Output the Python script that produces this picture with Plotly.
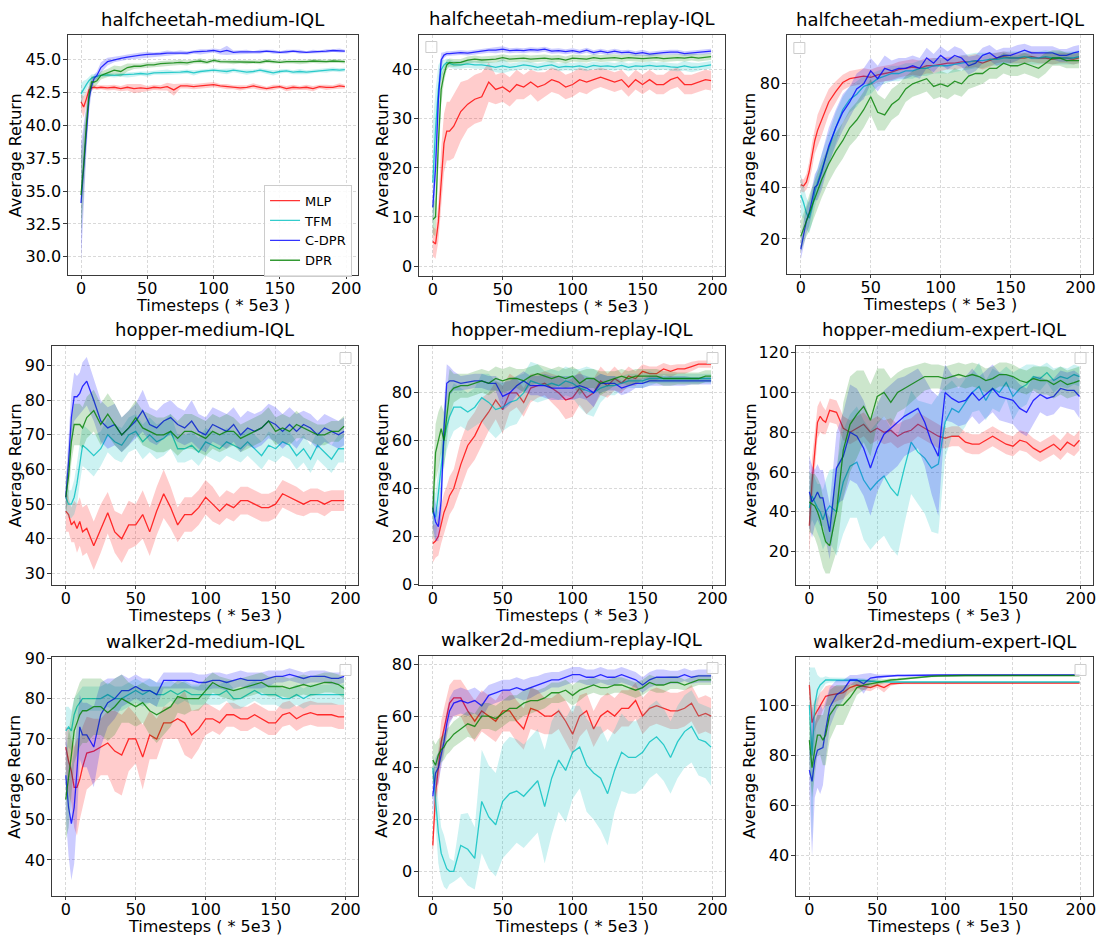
import plotly.graph_objects as go

W, H = 1104, 950

X = [0, 2, 4, 6, 8, 10, 12, 15,
     20, 25, 30, 35, 40, 45, 50, 55, 60, 65,
     70, 75, 80, 85, 90, 95, 100, 105, 110, 115,
     120, 125, 130, 135, 140, 145, 150, 155, 160, 165,
     170, 175, 180, 185, 190, 195, 199]

SERIES = ["MLP", "TFM", "C-DPR", "DPR"]
LINE_COLORS = ["rgba(255,0,0,0.8)", "rgba(0,191,191,0.8)", "rgba(0,0,255,0.8)", "rgba(0,128,0,0.8)"]
FILL_COLORS = ["rgba(255,0,0,0.2)", "rgba(0,191,191,0.2)", "rgba(0,0,255,0.2)", "rgba(0,128,0,0.2)"]

TITLES = ["halfcheetah-medium-IQL", "halfcheetah-medium-replay-IQL", "halfcheetah-medium-expert-IQL",
          "hopper-medium-IQL", "hopper-medium-replay-IQL", "hopper-medium-expert-IQL",
          "walker2d-medium-IQL", "walker2d-medium-replay-IQL", "walker2d-medium-expert-IQL"]
XTICKS = [0, 50, 100, 150, 200]
YTICKS = [[30.0, 32.5, 35.0, 37.5, 40.0, 42.5, 45.0],
          [0, 10, 20, 30, 40],
          [20, 40, 60, 80],
          [30, 40, 50, 60, 70, 80, 90],
          [0, 20, 40, 60, 80],
          [20, 40, 60, 80, 100, 120],
          [40, 50, 60, 70, 80, 90],
          [0, 20, 40, 60, 80],
          [40, 60, 80, 100]]
XLABEL = "Timesteps ( * 5e3 )"
YLABEL = "Average Return"

# ---------------- halfcheetah-medium ----------------
hcm_mlp = [41.8, 41.4, 42.0, 42.7, 42.85, 42.9, 42.85, 42.9,
           42.85, 42.9, 42.8, 42.9, 42.8, 42.85, 42.8, 42.9, 42.85, 42.95,
           42.7, 43.0, 43.0, 42.95, 43.0, 43.05, 43.1, 43.0, 42.95, 42.9,
           42.85, 42.9, 43.0, 42.9, 42.8, 42.9, 42.95, 42.8, 42.9, 42.85,
           42.9, 42.8, 42.95, 42.9, 42.9, 43.0, 42.95]
hcm_mlp_sd = [0.6, 0.8, 0.6, 0.3, 0.2, 0.15, 0.15, 0.15,
              0.2, 0.2, 0.2, 0.25, 0.35, 0.3, 0.2, 0.2, 0.2, 0.3,
              0.45, 0.2, 0.2, 0.2, 0.2, 0.2, 0.2, 0.15, 0.2, 0.15,
              0.2, 0.15, 0.2, 0.2, 0.15, 0.2, 0.15, 0.2, 0.2, 0.15,
              0.2, 0.2, 0.15, 0.2, 0.15, 0.2, 0.15]
hcm_tfm = [42.4, 42.8, 43.1, 43.4, 43.6, 43.7, 43.75, 43.8,
           43.85, 43.8, 43.85, 43.85, 43.9, 43.95, 43.9, 44.0, 44.0, 44.05,
           44.0, 44.05, 44.1, 44.0, 44.1, 44.15, 44.2, 44.15, 44.1, 44.2,
           44.1, 44.05, 44.1, 44.2, 44.1, 44.0, 44.1, 44.15, 44.05, 44.1,
           44.05, 44.1, 44.2, 44.2, 44.25, 44.2, 44.25]
hcm_tfm_sd = [0.8, 0.6, 0.4, 0.3, 0.3, 0.2, 0.2, 0.15,
              0.15, 0.15, 0.15, 0.2, 0.2, 0.15, 0.2, 0.15, 0.15, 0.2,
              0.15, 0.15, 0.15, 0.2, 0.15, 0.15, 0.15, 0.15, 0.2, 0.15,
              0.15, 0.2, 0.15, 0.15, 0.15, 0.2, 0.15, 0.15, 0.15, 0.2,
              0.15, 0.15, 0.15, 0.2, 0.15, 0.15, 0.15]
hcm_cdpr = [34.1, 37.0, 39.8, 42.0, 43.0, 43.6, 43.8, 44.4,
            44.85, 45.0, 45.1, 45.2, 45.3, 45.35, 45.4, 45.4, 45.45, 45.5,
            45.5, 45.55, 45.5, 45.6, 45.6, 45.65, 45.7, 45.6, 45.7, 45.55,
            45.6, 45.6, 45.55, 45.6, 45.65, 45.6, 45.55, 45.6, 45.65, 45.6,
            45.55, 45.6, 45.6, 45.65, 45.7, 45.7, 45.65]
hcm_cdpr_sd = [4.5, 3.0, 2.0, 1.0, 0.5, 0.3, 0.3, 0.4,
               0.3, 0.2, 0.2, 0.2, 0.2, 0.2, 0.2, 0.15, 0.15, 0.2,
               0.15, 0.15, 0.15, 0.15, 0.2, 0.15, 0.15, 0.2, 0.35, 0.15,
               0.15, 0.15, 0.1, 0.15, 0.1, 0.15, 0.1, 0.15, 0.1, 0.15,
               0.1, 0.15, 0.1, 0.15, 0.1, 0.15, 0.1]
hcm_dpr = [34.7, 37.0, 40.0, 42.3, 43.3, 43.3, 43.4, 43.8,
           44.0, 44.2, 44.1, 44.4, 44.5, 44.5, 44.6, 44.6, 44.7, 44.7,
           44.75, 44.8, 44.75, 44.85, 44.9, 44.8, 44.95, 44.85, 44.85, 44.8,
           44.85, 44.8, 44.85, 44.8, 44.9, 44.85, 44.8, 44.85, 44.85, 44.8,
           44.85, 44.9, 44.85, 44.85, 44.9, 44.9, 44.85]
hcm_dpr_sd = [3.0, 2.5, 1.5, 0.8, 0.5, 0.4, 0.3, 0.3,
              0.3, 0.35, 0.4, 0.3, 0.2, 0.2, 0.2, 0.2, 0.2, 0.2,
              0.2, 0.2, 0.2, 0.15, 0.2, 0.15, 0.15, 0.15, 0.15, 0.15,
              0.15, 0.15, 0.15, 0.15, 0.15, 0.15, 0.15, 0.15, 0.15, 0.15,
              0.15, 0.15, 0.15, 0.15, 0.15, 0.15, 0.15]

# ---------------- halfcheetah-medium-replay ----------------
hcmr_mlp = [5.0, 4.5, 9.0, 18.0, 25.0, 27.5, 27.5, 28.5,
            31.5, 33.0, 34.0, 34.5, 37.5, 36.0, 36.5, 35.5, 37.0, 36.5,
            37.5, 36.5, 37.0, 38.0, 37.5, 36.5, 37.0, 38.0, 37.5, 38.0,
            38.5, 38.0, 37.5, 38.0, 36.5, 38.0, 37.0, 38.0, 37.0, 37.0,
            38.0, 38.5, 37.0, 37.0, 37.5, 38.0, 37.8]
hcmr_mlp_sd = [3.0, 3.0, 4.0, 6.0, 6.0, 6.0, 6.0, 6.5,
               6.0, 5.0, 5.0, 5.0, 4.0, 3.0, 3.0, 3.0, 3.0, 2.5,
               2.5, 3.0, 2.5, 2.5, 2.5, 2.5, 2.5, 2.5, 2.5, 2.0,
               2.0, 2.0, 2.0, 2.0, 2.0, 2.0, 2.0, 2.0, 2.0, 2.0,
               2.0, 2.0, 2.0, 2.0, 2.0, 2.0, 2.0]
hcmr_tfm = [17.0, 28.0, 36.0, 40.0, 41.0, 41.5, 41.3, 41.0,
            41.0, 41.2, 41.0, 41.0, 40.8, 40.5, 40.8, 40.5, 40.7, 41.0,
            40.8, 40.5, 40.8, 41.0, 40.5, 40.7, 40.6, 40.8, 40.5, 40.9,
            40.7, 40.8, 40.6, 40.9, 40.5, 40.8, 40.7, 40.9, 40.7, 40.8,
            40.6, 40.5, 40.8, 40.5, 40.6, 40.9, 41.0]
hcmr_tfm_sd = [12.0, 8.0, 5.0, 2.0, 1.0, 0.8, 0.8, 0.8,
               0.8, 0.8, 0.8, 0.8, 0.8, 1.0, 1.5, 0.8, 0.8, 0.8,
               0.8, 0.8, 0.8, 0.8, 0.8, 0.8, 0.8, 0.8, 0.8, 0.8,
               0.8, 0.8, 0.8, 0.8, 0.8, 0.8, 0.8, 0.8, 0.8, 0.8,
               0.8, 0.8, 1.0, 1.0, 0.8, 0.8, 0.8]
hcmr_cdpr = [12.0, 20.0, 34.0, 42.0, 43.0, 43.3, 43.3, 43.4,
             43.5, 43.4, 43.6, 43.8, 44.0, 44.0, 44.2, 43.9, 44.0, 43.9,
             44.1, 44.0, 44.2, 43.8, 43.9, 43.7, 43.9, 43.6, 44.0, 43.5,
             43.8, 43.5, 43.8, 43.5, 43.6, 43.3, 43.5, 43.2, 43.4, 43.5,
             43.6, 43.6, 43.3, 43.4, 43.5, 43.7, 43.8]
hcmr_cdpr_sd = [3.0, 4.0, 4.0, 1.5, 0.6, 0.5, 0.5, 0.5,
                0.5, 0.5, 0.5, 0.5, 0.5, 0.6, 0.6, 0.5, 0.5, 0.5,
                0.5, 0.5, 0.5, 0.5, 0.5, 0.5, 0.5, 0.5, 0.5, 0.5,
                0.5, 0.5, 0.5, 0.5, 0.5, 0.5, 0.6, 0.5, 0.5, 0.5,
                0.5, 0.5, 0.5, 0.5, 0.5, 0.5, 0.5]
hcmr_dpr = [9.5, 10.0, 25.0, 36.0, 39.0, 41.0, 41.5, 41.4,
            41.5, 42.0, 42.2, 42.0, 42.1, 42.2, 42.5, 42.2, 42.3, 42.4,
            42.2, 42.3, 42.4, 42.2, 42.3, 42.0, 42.4, 42.3, 42.2, 42.5,
            42.3, 42.4, 42.5, 42.3, 42.5, 42.4, 42.3, 42.4, 42.5, 42.3,
            42.4, 42.5, 42.4, 42.6, 42.4, 42.5, 42.7]
hcmr_dpr_sd = [3.0, 4.0, 5.0, 3.0, 1.5, 1.0, 0.8, 0.8,
               0.7, 0.7, 0.7, 0.7, 0.7, 0.7, 0.7, 0.7, 0.7, 0.7,
               0.7, 0.7, 0.7, 0.7, 0.7, 0.7, 0.7, 0.7, 0.7, 0.7,
               0.7, 0.7, 0.7, 0.7, 0.7, 0.7, 0.7, 0.7, 0.7, 0.7,
               0.7, 0.7, 0.7, 0.7, 0.7, 0.7, 0.7]

# ---------------- halfcheetah-medium-expert ----------------
hcme_mlp = [41.0, 40.5, 42.0, 46.0, 52.0, 58.0, 62.0, 66.0,
            73.0, 77.0, 80.5, 82.0, 82.5, 83.0, 82.5, 83.5, 84.0, 84.5,
            85.5, 86.0, 86.5, 86.0, 87.0, 87.0, 87.5, 88.0, 88.0, 88.5,
            88.5, 89.0, 88.0, 89.0, 90.0, 90.5, 90.0, 90.0, 90.0, 90.5,
            90.0, 90.0, 89.5, 90.0, 90.0, 89.5, 90.0]
hcme_mlp_sd = [2.5, 2.5, 3.0, 4.0, 5.0, 5.0, 6.0, 6.0,
               5.0, 4.0, 3.0, 3.0, 3.0, 3.0, 3.0, 3.0, 3.0, 3.0,
               3.0, 3.0, 3.0, 3.0, 3.0, 3.0, 2.5, 2.5, 2.5, 2.5,
               2.5, 2.5, 2.5, 2.5, 2.0, 2.0, 2.0, 2.0, 2.0, 2.0,
               2.0, 2.0, 2.0, 2.0, 2.0, 2.0, 2.0]
hcme_tfm = [37.0, 34.0, 30.0, 28.0, 32.0, 38.0, 42.0, 47.0,
            55.0, 63.0, 70.0, 74.0, 76.0, 79.0, 80.0, 82.0, 83.0, 84.0,
            84.0, 85.0, 85.0, 86.0, 86.0, 87.0, 87.0, 87.0, 87.5, 88.0,
            88.5, 89.0, 89.0, 89.5, 89.5, 90.0, 90.0, 90.0, 90.5, 90.0,
            90.0, 90.5, 90.0, 90.0, 90.0, 90.0, 90.5]
hcme_tfm_sd = [8.0, 6.0, 6.0, 6.0, 6.0, 6.0, 6.0, 6.0,
               6.0, 6.0, 5.0, 5.0, 5.0, 4.0, 4.0, 3.0, 3.0, 3.0,
               3.0, 3.0, 3.0, 3.0, 3.0, 3.0, 3.0, 3.0, 3.0, 3.0,
               3.0, 3.0, 3.0, 2.5, 2.5, 2.5, 2.5, 2.5, 2.5, 2.5,
               2.5, 2.5, 2.5, 2.5, 2.5, 2.5, 2.5]
hcme_cdpr = [16.0, 22.0, 27.0, 30.0, 35.0, 40.0, 41.0, 46.0,
             56.0, 63.0, 69.0, 73.0, 78.0, 80.0, 85.0, 82.0, 86.0, 85.0,
             86.0, 86.0, 87.0, 86.0, 90.0, 88.0, 91.0, 89.0, 91.0, 90.0,
             87.0, 88.0, 91.0, 92.0, 90.0, 91.0, 91.0, 92.0, 93.0, 92.0,
             92.0, 92.0, 92.0, 91.0, 91.0, 92.0, 92.5]
hcme_cdpr_sd = [4.0, 5.0, 5.0, 5.0, 5.0, 5.0, 6.0, 7.0,
                7.0, 7.0, 7.0, 6.0, 6.0, 6.0, 5.0, 5.0, 5.0, 4.0,
                4.0, 4.0, 4.0, 4.0, 4.0, 3.5, 3.5, 3.5, 3.5, 3.5,
                3.5, 3.0, 3.0, 3.0, 3.0, 3.0, 3.0, 3.0, 2.5, 2.5,
                2.5, 2.5, 2.5, 2.5, 2.5, 2.5, 2.5]
hcme_dpr = [21.0, 24.0, 27.0, 30.0, 33.0, 36.0, 39.0, 43.0,
            49.0, 54.0, 58.0, 63.0, 66.0, 70.0, 75.0, 69.0, 68.0, 72.0,
            74.0, 78.0, 80.0, 81.0, 82.0, 79.0, 80.0, 79.0, 81.0, 80.0,
            83.0, 84.0, 84.0, 86.0, 86.0, 88.0, 87.0, 87.0, 88.0, 87.0,
            86.0, 88.0, 90.0, 90.0, 89.0, 89.0, 89.0]
hcme_dpr_sd = [6.0, 6.0, 6.0, 7.0, 7.0, 7.0, 7.0, 7.0,
               7.0, 7.0, 7.0, 7.0, 7.0, 7.0, 7.0, 7.0, 6.0, 6.0,
               6.0, 5.0, 5.0, 5.0, 5.0, 5.0, 5.0, 5.0, 5.0, 5.0,
               5.0, 5.0, 4.0, 4.0, 4.0, 4.0, 4.0, 4.0, 4.0, 4.0,
               4.0, 4.0, 3.0, 3.0, 3.0, 3.0, 3.0]

# ---------------- hopper-medium ----------------
hpm_mlp = [48.0, 47.0, 44.0, 45.0, 43.0, 45.0, 42.0, 43.0,
           38.0, 43.0, 47.5, 42.0, 40.0, 44.0, 44.0, 47.0, 42.0, 48.0,
           53.0, 49.0, 44.0, 47.0, 47.0, 49.0, 52.0, 50.0, 48.0, 50.0,
           49.0, 51.0, 51.0, 50.0, 49.0, 49.0, 50.0, 53.0, 52.0, 51.0,
           50.0, 51.0, 51.0, 50.0, 51.0, 51.0, 51.0]
hpm_mlp_sd = [6.0, 5.0, 5.0, 6.0, 7.0, 7.0, 7.0, 7.0,
              7.0, 7.0, 6.0, 6.0, 7.0, 7.0, 6.0, 7.0, 7.0, 7.0,
              7.0, 6.0, 5.0, 5.0, 5.0, 5.0, 5.0, 5.0, 4.0, 4.0,
              4.0, 4.0, 4.0, 4.0, 4.0, 4.0, 4.0, 4.0, 4.0, 4.0,
              3.5, 3.5, 3.5, 3.5, 3.0, 3.0, 3.0]
hpm_tfm = [52.0, 50.0, 50.0, 52.0, 56.0, 62.0, 67.0, 66.0,
           64.0, 66.0, 70.0, 68.0, 67.0, 70.0, 71.0, 68.0, 70.0, 68.0,
           69.0, 71.0, 66.0, 66.0, 67.0, 65.0, 68.0, 67.0, 66.0, 68.0,
           67.0, 66.0, 68.0, 66.0, 64.0, 67.0, 66.0, 68.0, 67.0, 64.0,
           66.0, 63.0, 67.0, 65.0, 63.0, 66.0, 66.0]
hpm_tfm_sd = [4.0, 4.0, 4.0, 5.0, 6.0, 6.0, 6.0, 6.0,
              6.0, 5.0, 5.0, 5.0, 5.0, 5.0, 5.0, 5.0, 5.0, 5.0,
              5.0, 5.0, 4.0, 4.0, 4.0, 4.0, 4.0, 4.0, 4.0, 4.0,
              4.0, 4.0, 4.0, 4.0, 4.0, 4.0, 4.0, 4.0, 4.0, 4.0,
              4.0, 4.0, 4.0, 4.0, 4.0, 4.0, 4.0]
hpm_cdpr = [52.0, 62.0, 75.0, 81.0, 81.0, 82.0, 84.0, 85.5,
            80.0, 74.0, 72.0, 73.0, 70.0, 72.0, 74.0, 77.0, 73.0, 72.0,
            74.0, 75.0, 73.0, 72.0, 74.0, 71.0, 70.0, 73.0, 72.0, 71.0,
            73.0, 70.0, 72.0, 71.0, 72.0, 74.0, 73.0, 71.0, 73.0, 71.0,
            73.0, 72.0, 70.0, 72.0, 71.0, 70.0, 71.0]
hpm_cdpr_sd = [5.0, 6.0, 7.0, 7.0, 6.0, 6.0, 7.0, 7.0,
               6.0, 6.0, 6.0, 6.0, 5.0, 5.0, 5.0, 6.0, 5.0, 5.0,
               5.0, 5.0, 5.0, 5.0, 6.0, 5.0, 5.0, 5.0, 5.0, 5.0,
               5.0, 5.0, 5.0, 5.0, 5.0, 5.0, 5.0, 5.0, 5.0, 5.0,
               4.0, 4.0, 4.0, 4.0, 4.0, 4.0, 4.0]
hpm_dpr = [52.0, 58.0, 68.0, 73.0, 73.0, 73.0, 72.0, 75.0,
           77.0, 73.0, 76.0, 73.0, 70.0, 72.0, 75.0, 72.0, 71.0, 70.0,
           70.0, 71.0, 69.0, 71.0, 71.0, 70.0, 69.0, 71.0, 70.0, 71.0,
           71.0, 69.0, 70.0, 71.0, 72.0, 74.0, 71.0, 72.0, 71.0, 73.0,
           72.0, 71.0, 70.0, 70.0, 71.0, 71.0, 72.5]
hpm_dpr_sd = [5.0, 6.0, 6.0, 6.0, 6.0, 6.0, 6.0, 6.0,
              6.0, 6.0, 6.0, 6.0, 5.0, 5.0, 5.0, 5.0, 5.0, 5.0,
              5.0, 5.0, 5.0, 5.0, 5.0, 5.0, 5.0, 5.0, 5.0, 5.0,
              4.0, 4.0, 4.0, 4.0, 4.0, 4.0, 4.0, 4.0, 4.0, 4.0,
              3.0, 3.0, 3.0, 3.0, 3.0, 3.0, 3.0]

# ---------------- hopper-medium-replay ----------------
hpmr_mlp = [17.0, 18.0, 20.0, 25.0, 30.0, 33.0, 37.0, 40.0,
            50.0, 58.0, 62.0, 68.0, 72.0, 77.0, 73.0, 80.0, 80.0, 76.0,
            82.0, 83.0, 84.0, 82.0, 80.0, 77.0, 78.0, 82.0, 78.0, 80.0,
            85.0, 83.0, 86.0, 84.0, 87.0, 86.0, 89.0, 88.0, 88.0, 90.0,
            89.0, 90.0, 90.0, 91.0, 92.0, 92.0, 92.0]
hpmr_mlp_sd = [8.0, 7.0, 8.0, 8.0, 8.0, 8.0, 8.0, 8.0,
               10.0, 10.0, 10.0, 10.0, 8.0, 8.0, 10.0, 8.0, 6.0, 6.0,
               6.0, 5.0, 5.0, 6.0, 7.0, 8.0, 8.0, 7.0, 7.0, 6.0,
               6.0, 5.0, 5.0, 4.0, 4.0, 3.0, 3.0, 3.0, 3.0, 2.5,
               2.5, 2.0, 2.0, 2.0, 1.5, 1.5, 1.5]
hpmr_tfm = [30.0, 28.0, 38.0, 50.0, 60.0, 66.0, 70.0, 74.0,
            74.0, 72.0, 74.0, 78.0, 76.0, 73.0, 74.0, 76.0, 77.0, 80.0,
            85.0, 84.0, 83.0, 84.0, 83.0, 85.0, 84.0, 82.0, 81.0, 80.0,
            82.0, 83.0, 83.0, 84.0, 85.0, 85.0, 85.0, 86.0, 86.0, 86.0,
            86.0, 86.0, 86.0, 86.0, 86.0, 86.0, 86.0]
hpmr_tfm_sd = [10.0, 10.0, 10.0, 10.0, 10.0, 10.0, 10.0, 10.0,
               8.0, 8.0, 8.0, 10.0, 12.0, 12.0, 10.0, 10.0, 10.0, 8.0,
               8.0, 8.0, 6.0, 6.0, 6.0, 6.0, 6.0, 8.0, 10.0, 10.0,
               6.0, 4.0, 4.0, 3.0, 3.0, 3.0, 3.0, 3.0, 2.0, 2.0,
               2.0, 2.0, 2.0, 2.0, 2.0, 2.0, 2.0]
hpmr_cdpr = [32.0, 26.0, 24.0, 35.0, 65.0, 84.0, 85.0, 85.0,
             84.0, 84.5, 85.0, 85.0, 84.0, 84.0, 78.5, 80.0, 83.0, 85.0,
             83.0, 83.0, 83.0, 82.0, 82.0, 82.0, 82.0, 83.0, 82.0, 80.0,
             84.0, 84.0, 84.0, 82.0, 83.0, 84.0, 84.0, 85.0, 85.0, 85.0,
             85.0, 85.0, 85.0, 85.0, 85.0, 85.0, 85.0]
hpmr_cdpr_sd = [8.0, 8.0, 6.0, 8.0, 10.0, 8.0, 6.0, 4.0,
                3.0, 3.0, 3.0, 3.0, 3.0, 3.0, 6.0, 5.0, 4.0, 4.0,
                4.0, 4.0, 5.0, 5.0, 5.0, 5.0, 5.0, 5.0, 5.0, 6.0,
                4.0, 3.0, 3.0, 3.0, 3.0, 2.0, 2.0, 2.0, 2.0, 2.0,
                2.0, 2.0, 2.0, 1.5, 1.5, 1.5, 1.5]
hpmr_dpr = [30.0, 55.0, 60.0, 65.0, 60.0, 70.0, 80.0, 82.0,
            83.0, 83.0, 84.0, 85.0, 84.0, 86.0, 85.0, 86.0, 86.0, 85.0,
            87.0, 88.0, 87.0, 86.0, 87.0, 86.0, 87.0, 84.0, 86.0, 86.0,
            84.0, 85.0, 86.0, 87.0, 86.0, 87.0, 87.0, 87.0, 87.0, 86.0,
            86.0, 86.0, 86.0, 86.0, 86.0, 87.0, 87.0]
hpmr_dpr_sd = [12.0, 12.0, 12.0, 10.0, 12.0, 12.0, 10.0, 6.0,
               5.0, 5.0, 5.0, 5.0, 5.0, 5.0, 5.0, 5.0, 4.0, 5.0,
               4.0, 4.0, 4.0, 4.0, 4.0, 4.0, 4.0, 5.0, 4.0, 4.0,
               5.0, 4.0, 3.0, 3.0, 3.0, 3.0, 3.0, 3.0, 3.0, 3.0,
               3.0, 2.5, 2.5, 2.5, 2.5, 2.5, 2.5]

# ---------------- hopper-medium-expert ----------------
hpme_mlp = [33.0, 55.0, 70.0, 85.0, 88.0, 86.0, 85.0, 91.0,
            90.0, 82.0, 80.0, 82.0, 84.0, 80.0, 82.0, 80.0, 81.0, 78.0,
            80.0, 81.0, 84.0, 82.0, 80.0, 78.0, 77.0, 78.0, 78.0, 75.0,
            74.0, 74.0, 76.0, 78.0, 76.0, 74.0, 73.0, 76.0, 75.0, 72.0,
            70.0, 72.0, 74.0, 71.0, 75.0, 73.0, 76.0]
hpme_mlp_sd = [15.0, 12.0, 10.0, 8.0, 8.0, 7.0, 6.0, 6.0,
               6.0, 6.0, 6.0, 6.0, 6.0, 6.0, 6.0, 6.0, 6.0, 6.0,
               6.0, 6.0, 6.0, 6.0, 6.0, 6.0, 5.0, 5.0, 5.0, 5.0,
               5.0, 5.0, 5.0, 5.0, 5.0, 5.0, 5.0, 5.0, 5.0, 5.0,
               5.0, 5.0, 5.0, 5.0, 5.0, 5.0, 5.0]
hpme_tfm = [42.0, 48.0, 45.0, 42.0, 40.0, 36.0, 40.0, 43.0,
            40.0, 55.0, 63.0, 65.0, 56.0, 51.0, 55.0, 58.0, 52.0, 48.0,
            62.0, 75.0, 70.0, 67.0, 62.0, 64.0, 85.0, 92.0, 90.0, 95.0,
            100.0, 103.0, 96.0, 102.0, 100.0, 105.0, 98.0, 102.0, 104.0, 108.0,
            107.0, 110.0, 106.0, 108.0, 107.0, 109.0, 108.0]
hpme_tfm_sd = [10.0, 12.0, 12.0, 12.0, 14.0, 15.0, 16.0, 18.0,
               22.0, 26.0, 26.0, 28.0, 30.0, 30.0, 30.0, 30.0, 30.0, 30.0,
               28.0, 26.0, 26.0, 28.0, 32.0, 35.0, 18.0, 14.0, 12.0, 12.0,
               10.0, 12.0, 10.0, 10.0, 10.0, 8.0, 12.0, 10.0, 10.0, 6.0,
               6.0, 5.0, 6.0, 5.0, 5.0, 5.0, 5.0]
hpme_cdpr = [50.0, 45.0, 47.0, 50.0, 47.0, 47.0, 40.0, 30.0,
             62.0, 68.0, 80.0, 78.0, 72.0, 62.0, 72.0, 79.0, 82.0, 85.0,
             88.0, 90.0, 92.0, 85.0, 75.0, 68.0, 100.0, 97.0, 95.0, 96.0,
             100.0, 96.0, 99.0, 102.0, 98.0, 97.0, 96.0, 92.0, 90.0, 96.0,
             99.0, 97.0, 98.0, 102.0, 101.0, 101.0, 98.0]
hpme_cdpr_sd = [18.0, 18.0, 14.0, 14.0, 14.0, 14.0, 14.0, 14.0,
                18.0, 22.0, 24.0, 24.0, 24.0, 24.0, 22.0, 22.0, 22.0, 22.0,
                20.0, 20.0, 20.0, 22.0, 26.0, 30.0, 14.0, 12.0, 12.0, 12.0,
                12.0, 12.0, 12.0, 12.0, 12.0, 12.0, 12.0, 12.0, 12.0, 12.0,
                9.0, 9.0, 9.0, 9.0, 9.0, 10.0, 11.0]
hpme_dpr = [45.0, 44.0, 43.0, 40.0, 36.0, 30.0, 25.0, 23.0,
            40.0, 71.0, 84.0, 89.0, 93.0, 86.0, 98.0, 100.0, 95.0, 100.0,
            102.0, 104.0, 106.0, 108.0, 108.0, 108.0, 107.0, 108.0, 109.0, 108.0,
            109.0, 108.0, 106.0, 107.0, 109.0, 109.0, 108.0, 106.0, 105.0, 107.0,
            106.0, 106.0, 104.0, 106.0, 104.0, 105.0, 106.0]
hpme_dpr_sd = [15.0, 15.0, 16.0, 17.0, 18.0, 18.0, 16.0, 14.0,
               20.0, 24.0, 24.0, 22.0, 18.0, 18.0, 14.0, 12.0, 12.0, 10.0,
               10.0, 9.0, 8.0, 7.0, 6.0, 6.0, 6.0, 6.0, 6.0, 6.0,
               6.0, 6.0, 6.0, 6.0, 6.0, 6.0, 6.0, 6.0, 6.0, 6.0,
               7.0, 7.0, 7.0, 7.0, 7.0, 7.0, 7.0]

# ---------------- walker2d-medium ----------------
wkm_mlp = [68.0, 64.5, 62.0, 58.0, 58.0, 60.0, 63.0, 66.5,
           67.0, 68.0, 69.0, 67.0, 66.0, 70.0, 70.0, 65.5, 71.0, 70.0,
           74.0, 74.0, 75.0, 74.0, 71.0, 72.5, 75.0, 75.0, 74.0, 76.0,
           76.0, 75.0, 75.0, 76.0, 75.0, 74.0, 74.0, 76.0, 76.5, 75.0,
           76.0, 76.5, 76.0, 76.0, 76.0, 75.5, 75.5]
wkm_mlp_sd = [5.0, 8.0, 8.0, 10.0, 12.0, 10.0, 10.0, 9.0,
              8.0, 7.0, 8.0, 10.0, 10.0, 8.0, 6.0, 8.0, 6.0, 5.0,
              4.0, 4.0, 5.0, 8.0, 6.0, 5.0, 4.0, 3.0, 3.0, 3.0,
              3.0, 3.0, 3.0, 3.0, 3.0, 3.0, 3.0, 3.0, 3.0, 3.0,
              3.0, 3.0, 3.0, 3.0, 3.0, 3.0, 3.0]
wkm_tfm = [72.0, 73.0, 72.0, 76.0, 78.0, 79.0, 80.0, 80.0,
           80.0, 80.0, 81.0, 80.0, 80.0, 81.0, 82.0, 81.0, 82.0, 81.0,
           81.0, 82.0, 81.0, 82.0, 81.0, 81.0, 81.0, 81.0, 81.0, 82.0,
           80.0, 80.0, 81.0, 82.0, 81.0, 81.0, 81.0, 80.0, 80.0, 81.0,
           80.0, 81.0, 81.0, 81.0, 81.0, 81.0, 81.0]
wkm_tfm_sd = [6.0, 5.0, 5.0, 4.0, 3.0, 3.0, 3.0, 3.0,
              3.0, 3.0, 3.0, 3.0, 3.0, 3.0, 3.0, 3.0, 3.0, 3.0,
              3.0, 2.5, 2.5, 2.5, 2.5, 2.5, 2.5, 2.5, 2.5, 2.5,
              2.5, 2.5, 2.5, 2.5, 2.5, 2.5, 2.5, 2.5, 2.5, 2.5,
              2.5, 2.5, 2.5, 2.5, 2.5, 2.5, 2.5]
wkm_cdpr = [61.0, 53.0, 49.0, 53.0, 62.0, 73.0, 71.0, 71.0,
            68.0, 76.0, 79.0, 80.0, 82.0, 82.0, 83.0, 82.0, 82.0, 81.0,
            84.5, 84.5, 84.5, 84.5, 84.5, 84.0, 84.0, 84.5, 84.5, 84.0,
            84.5, 85.0, 84.5, 84.5, 84.5, 85.0, 85.5, 85.5, 86.0, 85.5,
            85.0, 85.5, 85.5, 85.5, 85.0, 85.0, 85.5]
wkm_cdpr_sd = [10.0, 12.0, 14.0, 14.0, 12.0, 8.0, 8.0, 8.0,
               10.0, 8.0, 6.0, 5.0, 4.0, 3.0, 3.0, 3.0, 3.0, 3.0,
               2.0, 2.0, 2.0, 2.0, 2.0, 2.0, 2.0, 2.0, 2.0, 2.0,
               2.0, 2.0, 2.0, 2.0, 2.0, 2.0, 1.5, 1.5, 1.5, 1.5,
               1.5, 1.5, 1.5, 1.5, 1.5, 1.5, 1.5]
wkm_dpr = [55.0, 60.0, 66.0, 72.0, 74.0, 76.0, 77.0, 77.0,
           78.0, 78.0, 76.5, 78.0, 80.0, 79.0, 78.0, 79.0, 77.0, 76.0,
           77.0, 78.0, 80.5, 80.0, 80.0, 80.0, 82.0, 84.0, 83.0, 82.5,
           82.0, 82.5, 83.0, 83.5, 84.0, 83.0, 83.0, 83.0, 82.5, 83.0,
           83.5, 83.0, 83.5, 84.0, 84.0, 83.5, 82.5]
wkm_dpr_sd = [10.0, 12.0, 10.0, 8.0, 8.0, 8.0, 8.0, 8.0,
              7.0, 7.0, 7.0, 7.0, 6.0, 5.0, 5.0, 5.0, 6.0, 7.0,
              6.0, 5.0, 4.0, 4.0, 3.0, 3.0, 3.0, 2.5, 2.5, 2.5,
              2.5, 2.5, 2.5, 2.5, 2.5, 2.5, 2.5, 2.5, 2.5, 2.5,
              2.5, 2.5, 2.5, 2.5, 2.5, 2.5, 2.5]

# ---------------- walker2d-medium-replay ----------------
wkmr_mlp = [10.0, 30.0, 40.0, 50.0, 55.0, 60.0, 65.0, 67.0,
            67.0, 62.0, 58.0, 62.0, 60.0, 58.0, 62.0, 62.0, 58.0, 55.0,
            63.0, 62.0, 60.0, 60.0, 62.0, 58.0, 53.0, 60.0, 62.0, 55.0,
            60.0, 62.0, 60.0, 63.0, 63.0, 66.0, 60.0, 63.0, 64.0, 63.0,
            62.0, 62.0, 63.0, 65.0, 60.0, 61.0, 60.0]
wkmr_mlp_sd = [5.0, 6.0, 7.0, 8.0, 8.0, 8.0, 7.0, 7.0,
               7.0, 8.0, 8.0, 8.0, 8.0, 8.0, 8.0, 8.0, 8.0, 8.0,
               8.0, 8.0, 7.0, 7.0, 7.0, 8.0, 8.0, 8.0, 7.0, 7.0,
               7.0, 7.0, 7.0, 7.0, 7.0, 7.0, 7.0, 7.0, 7.0, 7.0,
               7.0, 7.0, 7.0, 7.0, 7.0, 7.0, 7.0]
wkmr_tfm = [40.0, 28.0, 15.0, 7.0, 4.0, 1.0, 0.0, 0.0,
            10.0, 8.5, 5.0, 27.0, 21.0, 18.0, 27.0, 30.0, 31.0, 29.0,
            32.0, 35.0, 25.0, 36.0, 43.0, 39.0, 46.0, 48.0, 41.0, 38.0,
            36.0, 30.0, 39.0, 46.0, 44.0, 44.0, 46.0, 50.0, 52.0, 49.0,
            44.0, 50.0, 54.0, 56.0, 51.0, 50.0, 48.0]
wkmr_tfm_sd = [5.0, 10.0, 12.0, 10.0, 10.0, 8.0, 5.0, 4.0,
               12.0, 14.0, 12.0, 20.0, 20.0, 20.0, 22.0, 22.0, 20.0, 20.0,
               20.0, 20.0, 22.0, 22.0, 20.0, 20.0, 18.0, 16.0, 18.0, 18.0,
               20.0, 20.0, 16.0, 15.0, 14.0, 14.0, 14.0, 14.0, 14.0, 14.0,
               14.0, 14.0, 14.0, 14.0, 14.0, 14.0, 15.0]
wkmr_cdpr = [29.0, 38.0, 40.0, 45.0, 50.0, 57.0, 62.0, 65.0,
             66.0, 65.0, 66.0, 64.0, 68.0, 69.0, 70.0, 70.0, 71.0, 70.0,
             71.0, 72.0, 73.0, 74.0, 74.0, 75.0, 76.0, 76.0, 75.0, 75.0,
             76.0, 75.0, 75.0, 76.0, 75.0, 74.0, 72.0, 74.0, 75.0, 75.0,
             75.0, 75.0, 76.0, 75.0, 75.5, 75.5, 75.5]
wkmr_cdpr_sd = [8.0, 6.0, 6.0, 5.0, 5.0, 5.0, 5.0, 5.0,
                5.0, 5.0, 5.0, 5.0, 4.0, 4.0, 4.0, 4.0, 4.0, 4.0,
                4.0, 3.5, 3.5, 3.0, 3.0, 3.0, 3.0, 3.0, 3.0, 3.0,
                3.0, 3.0, 3.0, 3.0, 3.0, 3.0, 3.0, 3.0, 3.0, 3.0,
                2.5, 2.5, 2.5, 2.5, 2.5, 2.5, 2.5]
wkmr_dpr = [43.0, 41.0, 45.0, 47.0, 48.0, 50.0, 51.0, 53.0,
            55.0, 57.0, 56.0, 60.0, 60.0, 59.0, 61.0, 63.0, 63.0, 65.0,
            66.0, 66.0, 67.0, 69.0, 69.0, 70.0, 68.0, 70.0, 71.0, 72.0,
            71.0, 71.0, 72.0, 72.0, 71.0, 70.0, 71.0, 73.0, 72.0, 72.0,
            73.0, 73.0, 72.0, 73.0, 74.0, 74.0, 74.0]
wkmr_dpr_sd = [8.0, 8.0, 6.0, 5.0, 5.0, 5.0, 5.0, 5.0,
               5.0, 5.0, 5.0, 5.0, 5.0, 5.0, 5.0, 5.0, 5.0, 5.0,
               5.0, 4.0, 4.0, 4.0, 4.0, 4.0, 4.0, 4.0, 3.0, 3.0,
               3.0, 3.0, 3.0, 3.0, 3.0, 3.0, 3.0, 3.0, 3.0, 3.0,
               2.5, 2.5, 2.0, 2.0, 2.0, 2.0, 2.0]

# ---------------- walker2d-medium-expert ----------------
wkme_mlp = [108.0, 93.0, 96.0, 98.0, 100.0, 102.0, 103.5, 104.0,
            104.5, 105.0, 107.0, 108.0, 107.5, 107.0, 108.0, 107.0, 108.5, 108.8,
            108.8, 108.8, 108.8, 108.6, 108.6, 108.7, 108.8, 108.8, 108.8, 108.8,
            108.8, 108.8, 108.8, 108.8, 108.8, 108.8, 108.8, 108.8, 108.8, 108.8,
            108.8, 108.8, 108.8, 108.8, 108.8, 108.8, 108.8]
wkme_mlp_sd = [3.0, 6.0, 6.0, 5.0, 5.0, 4.0, 4.0, 4.0,
               3.0, 2.5, 2.0, 1.5, 1.5, 1.5, 1.0, 2.0, 0.8, 0.5,
               0.4, 0.4, 0.4, 0.4, 0.4, 0.4, 0.4, 0.4, 0.4, 0.4,
               0.3, 0.3, 0.3, 0.3, 0.3, 0.3, 0.3, 0.3, 0.3, 0.3,
               0.3, 0.3, 0.3, 0.3, 0.3, 0.3, 0.3]
wkme_tfm = [100.0, 80.0, 100.0, 106.0, 108.0, 109.0, 110.0, 110.0,
            110.0, 110.0, 110.0, 110.0, 109.8, 109.5, 109.3, 109.2, 109.2, 109.2,
            109.2, 109.2, 109.2, 109.2, 109.2, 109.2, 109.2, 109.2, 109.2, 109.2,
            109.2, 109.2, 109.2, 109.2, 109.2, 109.2, 109.2, 109.2, 109.2, 109.2,
            109.2, 109.2, 109.2, 109.2, 109.2, 109.2, 109.2]
wkme_tfm_sd = [15.0, 35.0, 15.0, 6.0, 3.0, 2.0, 1.5, 1.0,
               1.0, 0.8, 0.8, 0.8, 0.8, 0.6, 0.5, 0.4, 0.4, 0.3,
               0.3, 0.3, 0.3, 0.3, 0.3, 0.3, 0.3, 0.3, 0.3, 0.3,
               0.3, 0.3, 0.3, 0.3, 0.3, 0.3, 0.3, 0.3, 0.3, 0.3,
               0.3, 0.3, 0.3, 0.3, 0.3, 0.3, 0.3]
wkme_cdpr = [74.0, 69.5, 78.0, 82.0, 82.5, 83.0, 90.0, 99.0,
             104.0, 106.0, 110.0, 110.0, 108.5, 110.8, 111.2, 111.5, 111.7, 111.8,
             111.8, 111.9, 111.9, 111.9, 111.9, 112.0, 112.0, 112.0, 112.0, 112.0,
             112.0, 112.0, 112.0, 112.0, 112.0, 112.0, 112.0, 112.0, 112.0, 112.0,
             112.0, 112.0, 112.0, 112.0, 112.0, 112.0, 112.0]
wkme_cdpr_sd = [8.0, 30.0, 15.0, 15.0, 18.0, 15.0, 12.0, 8.0,
                6.0, 4.0, 2.0, 2.0, 4.0, 2.0, 1.0, 0.6, 0.5, 0.4,
                0.4, 0.3, 0.3, 0.3, 0.3, 0.3, 0.3, 0.3, 0.3, 0.3,
                0.3, 0.3, 0.3, 0.3, 0.3, 0.3, 0.3, 0.3, 0.3, 0.3,
                0.3, 0.3, 0.3, 0.3, 0.3, 0.3, 0.3]
wkme_dpr = [86.0, 75.0, 82.0, 88.0, 88.0, 86.0, 88.0, 96.0,
            100.0, 100.0, 103.0, 107.0, 108.0, 108.5, 109.0, 109.5, 110.0, 110.2,
            110.5, 110.8, 111.0, 111.3, 111.5, 111.6, 111.7, 111.8, 111.8, 111.8,
            111.8, 111.8, 111.8, 111.8, 111.8, 111.8, 111.8, 111.8, 111.8, 111.8,
            111.8, 111.8, 111.8, 111.8, 111.8, 111.8, 111.8]
wkme_dpr_sd = [10.0, 12.0, 10.0, 8.0, 8.0, 10.0, 12.0, 10.0,
               8.0, 8.0, 5.0, 3.0, 2.0, 1.5, 1.0, 0.8, 0.6, 0.5,
               0.5, 0.4, 0.4, 0.4, 0.4, 0.4, 0.4, 0.4, 0.4, 0.4,
               0.3, 0.3, 0.3, 0.3, 0.3, 0.3, 0.3, 0.3, 0.3, 0.3,
               0.3, 0.3, 0.3, 0.3, 0.3, 0.3, 0.3]

PANELS = [
    [(hcm_mlp, hcm_mlp_sd), (hcm_tfm, hcm_tfm_sd), (hcm_cdpr, hcm_cdpr_sd), (hcm_dpr, hcm_dpr_sd)],
    [(hcmr_mlp, hcmr_mlp_sd), (hcmr_tfm, hcmr_tfm_sd), (hcmr_cdpr, hcmr_cdpr_sd), (hcmr_dpr, hcmr_dpr_sd)],
    [(hcme_mlp, hcme_mlp_sd), (hcme_tfm, hcme_tfm_sd), (hcme_cdpr, hcme_cdpr_sd), (hcme_dpr, hcme_dpr_sd)],
    [(hpm_mlp, hpm_mlp_sd), (hpm_tfm, hpm_tfm_sd), (hpm_cdpr, hpm_cdpr_sd), (hpm_dpr, hpm_dpr_sd)],
    [(hpmr_mlp, hpmr_mlp_sd), (hpmr_tfm, hpmr_tfm_sd), (hpmr_cdpr, hpmr_cdpr_sd), (hpmr_dpr, hpmr_dpr_sd)],
    [(hpme_mlp, hpme_mlp_sd), (hpme_tfm, hpme_tfm_sd), (hpme_cdpr, hpme_cdpr_sd), (hpme_dpr, hpme_dpr_sd)],
    [(wkm_mlp, wkm_mlp_sd), (wkm_tfm, wkm_tfm_sd), (wkm_cdpr, wkm_cdpr_sd), (wkm_dpr, wkm_dpr_sd)],
    [(wkmr_mlp, wkmr_mlp_sd), (wkmr_tfm, wkmr_tfm_sd), (wkmr_cdpr, wkmr_cdpr_sd), (wkmr_dpr, wkmr_dpr_sd)],
    [(wkme_mlp, wkme_mlp_sd), (wkme_tfm, wkme_tfm_sd), (wkme_cdpr, wkme_cdpr_sd), (wkme_dpr, wkme_dpr_sd)],
]

# ---------------- layout (pixel boxes of each plot area) ----------------
BOXES = [(68, 359, 27, 271), (420, 727, 26, 272), (789, 1096, 27, 270),
         (52, 359, 343, 587), (420, 727, 343, 587), (798, 1096, 343, 587),
         (52, 359, 661, 904), (420, 727, 659, 904), (798, 1096, 661, 904)]
YRANGES = [(28.63, 46.84), (-2.0, 47.2), (6.5, 98.7),
           (26.7, 95.8), (-0.3, 99.8), (3.3, 123.6),
           (31.1, 90.2), (-9.5, 83.4), (23.8, 119.0)]
XRANGE = (-9.95, 208.95)
YLAB_X = [15, 383, 752]
EMPTY_LEGEND_SIDE = [None, "left", "left", "right", "right", "right", "right", "right", "right"]

FONT = "DejaVu Sans"
AXCOL = "#3a3a3a"

fig = go.Figure()
annotations = []
shapes = []
layout = {}

for i in range(9):
    sfx = "" if i == 0 else str(i + 1)
    xa, ya = "x" + sfx, "y" + sfx
    for k in range(4):
        mean, sd = PANELS[i][k]
        n = min(len(X), len(mean), len(sd))
        xs = X[:n]
        up = [m + s for m, s in zip(mean[:n], sd[:n])]
        lo = [m - s for m, s in zip(mean[:n], sd[:n])]
        fig.add_trace(go.Scatter(
            x=xs + xs[::-1], y=up + lo[::-1], fill="toself",
            fillcolor=FILL_COLORS[k], line=dict(width=0, color=FILL_COLORS[k]),
            mode="lines", hoverinfo="skip", showlegend=False,
            xaxis=xa, yaxis=ya))
        fig.add_trace(go.Scatter(
            x=xs, y=mean[:n], mode="lines", name=SERIES[k],
            line=dict(color=LINE_COLORS[k], width=1.3),
            showlegend=(i == 0), legendgroup=SERIES[k],
            xaxis=xa, yaxis=ya))

    l, r, t, b = BOXES[i]
    xd = [l / W, r / W]
    yd = [1 - b / H, 1 - t / H]
    common = dict(showline=True, mirror=True, linecolor=AXCOL, linewidth=1,
                  ticks="outside", ticklen=3.5, tickwidth=1, tickcolor=AXCOL,
                  showgrid=True, gridcolor="#d9d9d9", gridwidth=0.8, griddash="3px,2px",
                  zeroline=False, tickfont=dict(family=FONT, size=16, color="black"))
    layout["xaxis" + sfx] = dict(domain=xd, anchor=ya, range=list(XRANGE),
                                 tickvals=XTICKS, ticklabelstandoff=-5, **common)
    yax = dict(domain=yd, anchor=xa, range=list(YRANGES[i]), tickvals=YTICKS[i],
               ticklabelstandoff=-1, **common)
    if i == 0:
        yax["tickformat"] = ".1f"
    layout["yaxis" + sfx] = yax

    cx = (l + r) / 2 / W
    annotations.append(dict(text=TITLES[i], x=cx, y=1 - (t - 16) / H, xref="paper", yref="paper",
                            xanchor="center", yanchor="middle", showarrow=False,
                            font=dict(family=FONT, size=18, color="black")))
    annotations.append(dict(text=XLABEL, x=cx, y=1 - (b + 31) / H, xref="paper", yref="paper",
                            xanchor="center", yanchor="middle", showarrow=False,
                            font=dict(family=FONT, size=16, color="black")))
    annotations.append(dict(text=YLABEL, x=YLAB_X[i % 3] / W, y=(yd[0] + yd[1]) / 2,
                            xref="paper", yref="paper", xanchor="center", yanchor="middle",
                            textangle=-90, showarrow=False,
                            font=dict(family=FONT, size=16, color="black")))

    side = EMPTY_LEGEND_SIDE[i]
    if side is not None:
        if side == "left":
            xanc, x0, x1 = 0, 7, 18
        else:
            xanc, x0, x1 = 1, -18, -7
        shapes.append(dict(type="rect", xref=xa + " domain", yref=ya + " domain",
                           xsizemode="pixel", ysizemode="pixel",
                           xanchor=xanc, yanchor=1, x0=x0, x1=x1, y0=-7, y1=-18,
                           line=dict(color="#cccccc", width=1),
                           fillcolor="rgba(255,255,255,0.8)"))

fig.update_layout(
    width=W, height=H, autosize=False,
    margin=dict(l=0, r=0, t=0, b=0),
    paper_bgcolor="white", plot_bgcolor="white",
    font=dict(family=FONT, size=16, color="black"),
    annotations=annotations, shapes=shapes,
    legend=dict(x=353 / W, y=1 - 179 / H, xanchor="right", yanchor="top",
                bgcolor="rgba(255,255,255,0.85)", bordercolor="#cccccc", borderwidth=1,
                font=dict(family=FONT, size=13, color="black"), itemwidth=30,
                tracegroupgap=0),
    **layout,
)

fig.write_html("out.html", config={"displayModeBar": False},
               post_script="document.body.style.margin='0';document.body.style.overflow='hidden';")
